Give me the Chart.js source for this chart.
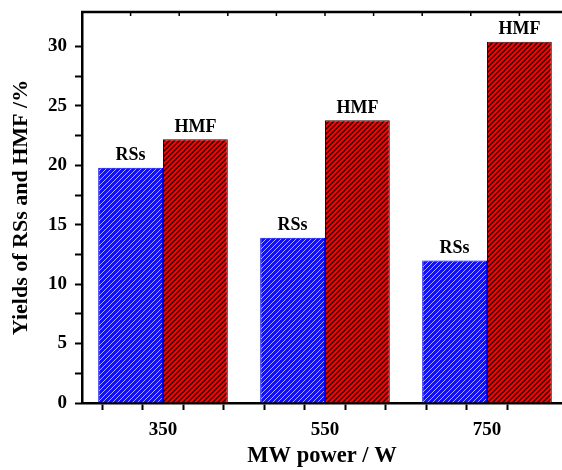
<!DOCTYPE html>
<html>
<head>
<meta charset="utf-8">
<script src="https://cdn.jsdelivr.net/npm/chart.js@4.4.0/dist/chart.umd.min.js"></script>
<style>
  html, body { margin: 0; padding: 0; background: #fff; overflow: hidden; }
</style>
</head>
<body>
<canvas id="yield_chart" width="562" height="470"></canvas>
<script>
// data
var powers = ['350', '550', '750'];
var rssYield = [19.8, 13.9, 12.0];
var hmfYield = [22.2, 23.8, 30.4];
var barNames = ['RSs', 'HMF'];

// axis ranges (x in category index units)
var xMin = -0.5;
var xMax = 2.463;
var yMax = 32.9;

var serif = "'Liberation Serif', 'Times New Roman', serif";

// hatch pattern: diagonal "/" lines
function makeHatch(bg, line, lw) {
	var s = 5;
	var c = document.createElement('canvas');
	c.width = s; c.height = s;
	var g = c.getContext('2d');
	g.fillStyle = bg;
	g.fillRect(0, 0, s, s);
	g.strokeStyle = line;
	g.lineWidth = lw;
	g.beginPath();
	g.moveTo(-1, s + 1); g.lineTo(s + 1, -1);
	g.moveTo(-1, 1); g.lineTo(1, -1);
	g.moveTo(s - 1, s + 1); g.lineTo(s + 1, s - 1);
	g.stroke();
	return document.getElementById('yield_chart').getContext('2d').createPattern(c, 'repeat');
}

var blueHatch = makeHatch('#1010ff', '#a8a8ff', 1.0);
var redHatch = makeHatch('#ff0000', '#1a0000', 1.3);

// labels over the bars
var barLabelPlugin = {
	id: 'barLabels',
	afterDatasetsDraw(chart) {
		var ctx = chart.ctx;
		ctx.save();
		ctx.font = 'bold 18px ' + serif;
		ctx.fillStyle = '#000';
		ctx.textAlign = 'center';
		ctx.textBaseline = 'bottom';
		chart.data.datasets.forEach((ds, i) => {
			chart.getDatasetMeta(i).data.forEach(bar => {
				ctx.fillText(barNames[i], bar.x, bar.y - 3);
			});
		});
		ctx.restore();
	}
};

// top frame line with small inward ticks
var topFramePlugin = {
	id: 'topFrame',
	afterDraw(chart) {
		var ctx = chart.ctx;
		var area = chart.chartArea;
		var xs = chart.scales.x;
		ctx.save();
		ctx.strokeStyle = '#000';
		ctx.lineWidth = 2.5;
		ctx.beginPath();
		ctx.moveTo(area.left - 1, area.top);
		ctx.lineTo(area.right, area.top);
		ctx.stroke();
		ctx.lineWidth = 1.5;
		ctx.beginPath();
		for (var v = xMin + 0.3; v < xMax; v += 0.3) {
			var px = xs.getPixelForValue(v);
			ctx.moveTo(px, area.top);
			ctx.lineTo(px, area.top + 4);
		}
		ctx.stroke();
		ctx.restore();
	}
};

var myChart = new Chart(document.getElementById('yield_chart'), {
	type: 'bar',
	data: {
		datasets: [{
			label: 'RSs',
			data: rssYield.map((v, i) => ({ x: i, y: v })),
			backgroundColor: blueHatch,
			borderColor: '#0000ee',
			borderWidth: 1
		}, {
			label: 'HMF',
			data: hmfYield.map((v, i) => ({ x: i, y: v })),
			backgroundColor: redHatch,
			borderColor: '#3a0000',
			borderWidth: 1
		}]
	},
	options: {
		responsive: false,
		animation: false,
		// sample size is the quarter-step tick gap, so 3.2 x 0.25 = 0.8 of a category
		categoryPercentage: 3.2,
		barPercentage: 1.0,
		plugins: {
			legend: { display: false },
			tooltip: { enabled: false }
		},
		layout: {
			padding: { top: 12, right: 0, left: 0, bottom: 0 }
		},
		scales: {
			x: {
				type: 'linear',
				min: xMin,
				max: xMax,
				offset: false,
				afterBuildTicks(scale) {
					scale.ticks = scale.ticks.filter(t => Math.abs(t.value * 4 - Math.round(t.value * 4)) < 1e-6);
				},
				afterFit(scale) {
					scale.height = 67;
					scale.paddingLeft = 0;
					scale.paddingRight = 0;
				},
				grid: {
					drawOnChartArea: false,
					drawTicks: true,
					tickLength: 7,
					tickWidth: 2,
					tickColor: '#000'
				},
				border: { display: true, color: '#000', width: 2.5 },
				ticks: {
					stepSize: 0.25,
					autoSkip: false,
					maxRotation: 0,
					padding: 9,
					color: '#000',
					font: { size: 19, weight: 'bold', family: serif },
					callback: v => Number.isInteger(v) && powers[v] !== undefined ? powers[v] : ''
				},
				title: {
					display: true,
					text: 'MW power / W',
					color: '#000',
					font: { size: 22.5, weight: 'bold', family: serif },
					padding: 0
				}
			},
			y: {
				min: 0,
				max: yMax,
				afterBuildTicks(scale) {
					scale.ticks = scale.ticks.filter(t => Math.abs(t.value / 2.5 - Math.round(t.value / 2.5)) < 1e-6);
				},
				afterFit(scale) {
					scale.width = 82;
					scale.paddingTop = 0;
					scale.paddingBottom = 0;
				},
				grid: {
					drawOnChartArea: false,
					tickLength: 7,
					tickWidth: 2,
					tickColor: '#000'
				},
				border: { display: true, color: '#000', width: 2.5 },
				ticks: {
					stepSize: 2.5,
					autoSkip: false,
					padding: 8,
					color: '#000',
					font: { size: 19, weight: 'bold', family: serif },
					callback: v => (v % 5 === 0 ? v : '')
				},
				title: {
					display: true,
					text: 'Yields of RSs and HMF /%',
					color: '#000',
					font: { size: 22, weight: 'bold', family: serif },
					padding: { top: 8, bottom: 0 }
				}
			}
		}
	},
	plugins: [barLabelPlugin, topFramePlugin]
});
</script>
</body>
</html>
